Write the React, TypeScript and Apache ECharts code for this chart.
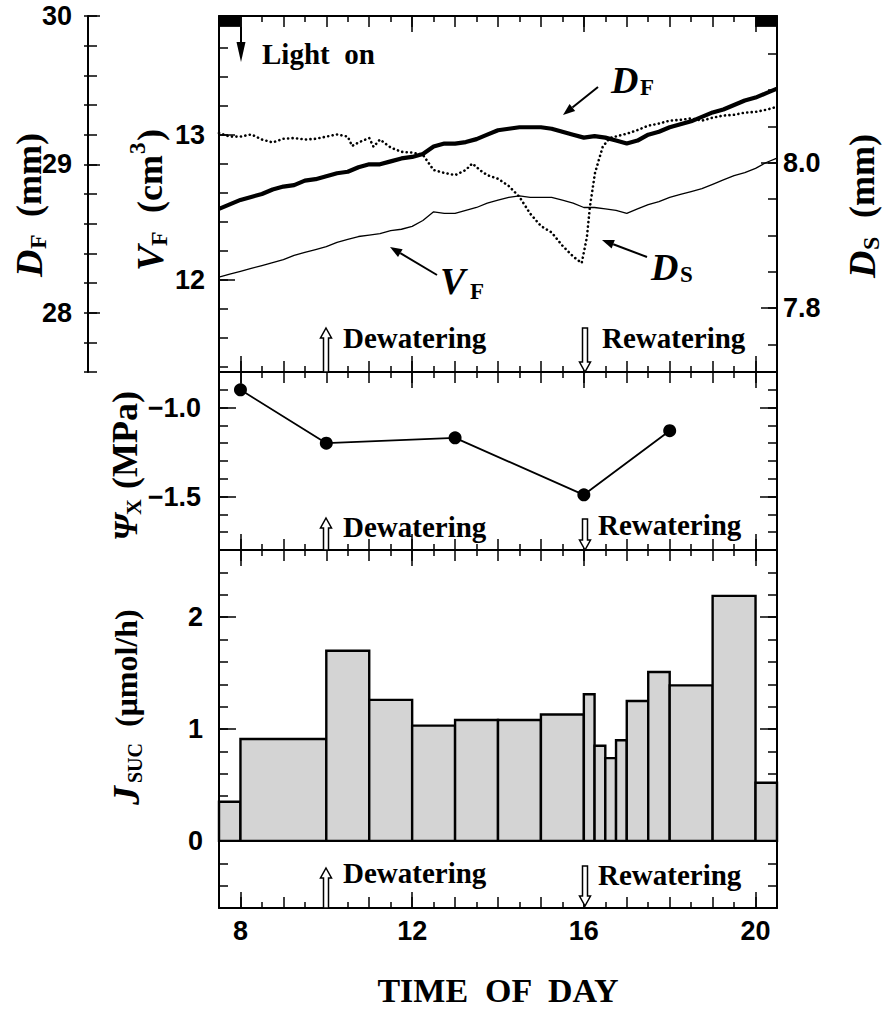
import React, { useEffect, useRef } from "react";
import * as echarts from "echarts";

// ---------- data ----------
const X_MIN = 7.5;
const X_MAX = 20.5;
const X_LABELS = [8, 12, 16, 20];
const X_HOUR_TICKS = [8, 9, 10, 11, 12, 13, 14, 15, 16, 17, 18, 19, 20];
const X_HALF_TICKS = [8.5, 9.5, 10.5, 11.5, 12.5, 13.5, 14.5, 15.5, 16.5, 17.5, 18.5, 19.5];

// top panel: time grid (h) for D_F and V_F
const HOURS = [
  7.5, 7.75, 8, 8.25, 8.5, 8.75, 9, 9.25, 9.5, 9.75, 10, 10.25, 10.5, 10.75, 11, 11.25, 11.5, 11.75,
  12, 12.25, 12.5, 12.75, 13, 13.25, 13.5, 13.75, 14, 14.25, 14.5, 14.75, 15, 15.25, 15.5, 15.75,
  16, 16.25, 16.5, 16.75, 17, 17.25, 17.5, 17.75, 18, 18.25, 18.5, 18.75, 19, 19.25, 19.5, 19.75,
  20, 20.25, 20.5,
];
// fruit diameter D_F (mm)
const DF = [
  28.70, 28.73, 28.76, 28.78, 28.80, 28.83, 28.85, 28.86, 28.89, 28.90, 28.92, 28.94, 28.95, 28.98,
  29.00, 29.00, 29.02, 29.04, 29.05, 29.07, 29.12, 29.14, 29.14, 29.15, 29.17, 29.20, 29.23, 29.24,
  29.25, 29.25, 29.25, 29.24, 29.22, 29.20, 29.18, 29.19, 29.18, 29.16, 29.14, 29.16, 29.20, 29.22,
  29.25, 29.27, 29.29, 29.32, 29.35, 29.37, 29.40, 29.43, 29.45, 29.48, 29.51,
];
// fruit volume V_F (cm3)
const VF = [
  12.02, 12.04, 12.06, 12.08, 12.10, 12.12, 12.14, 12.17, 12.19, 12.21, 12.23, 12.26, 12.28, 12.30,
  12.31, 12.32, 12.34, 12.35, 12.37, 12.41, 12.47, 12.46, 12.46, 12.48, 12.50, 12.53, 12.55, 12.57,
  12.58, 12.57, 12.57, 12.57, 12.55, 12.53, 12.50, 12.50, 12.49, 12.48, 12.46, 12.49, 12.52, 12.54,
  12.57, 12.59, 12.61, 12.63, 12.66, 12.69, 12.72, 12.74, 12.77, 12.81, 12.84,
];
// stem diameter D_S (mm)
const DS_HOURS = [
  7.5, 7.75, 8, 8.25, 8.5, 8.75, 9, 9.25, 9.5, 9.75, 10, 10.25, 10.5, 10.6, 10.75, 11, 11.1, 11.25,
  11.5, 11.75, 12, 12.25, 12.5, 12.75, 13, 13.25, 13.4, 13.6, 13.75, 14, 14.25, 14.5, 14.75, 15,
  15.25, 15.5, 15.75, 15.95, 16.07, 16.14, 16.26, 16.44, 16.6, 17, 17.25, 17.5, 17.75, 18, 18.25,
  18.5, 18.75, 19, 19.25, 19.5, 19.75, 20, 20.25, 20.5,
];
const DS = [
  8.041, 8.036, 8.036, 8.039, 8.032, 8.028, 8.033, 8.034, 8.032, 8.033, 8.036, 8.039, 8.036, 8.023,
  8.028, 8.034, 8.022, 8.032, 8.021, 8.015, 8.014, 8.011, 7.990, 7.986, 7.983, 7.990, 7.999, 7.989,
  7.983, 7.978, 7.968, 7.953, 7.930, 7.913, 7.904, 7.886, 7.871, 7.862, 7.897, 7.939, 7.986, 8.022,
  8.034, 8.040, 8.045, 8.051, 8.054, 8.058, 8.059, 8.061, 8.058, 8.062, 8.065, 8.066, 8.069, 8.070,
  8.073, 8.077,
];
const DARK_PERIODS = [
  [7.5, 8.0],
  [20.0, 20.5],
];

// middle panel: xylem water potential
const PSI_HOURS = [8, 10, 13, 16, 18];
const PSI = [-0.9, -1.2, -1.17, -1.49, -1.13];

// bottom panel: sucrose flux (histogram)
const J_START = [7.5, 8, 10, 11, 12, 13, 14, 15, 16, 16.25, 16.5, 16.75, 17, 17.5, 18, 19, 20];
const J_END = [8, 10, 11, 12, 13, 14, 15, 16, 16.25, 16.5, 16.75, 17, 17.5, 18, 19, 20, 20.5];
const J_SUC = [0.35, 0.91, 1.7, 1.26, 1.03, 1.08, 1.08, 1.13, 1.31, 0.85, 0.74, 0.9, 1.25, 1.51, 1.39, 2.19, 0.52];

// axis ticks / labels
const VF_TICKS = [11.4, 11.6, 11.8, 12, 12.2, 12.4, 12.6, 12.8, 13, 13.2, 13.4, 13.6, 13.8];
const VF_LABELS = [12, 13];
const DF_TICKS = [27.6, 27.8, 28, 28.2, 28.4, 28.6, 28.8, 29, 29.2, 29.4, 29.6, 29.8, 30];
const DF_LABELS = [28, 29, 30];
const DS_TICKS = [7.75, 7.8, 7.85, 7.9, 7.95, 8.0, 8.05, 8.1, 8.15, 8.2];
const DS_LABELS = [7.8, 8.0];
const PSI_TICKS = [-1.7, -1.6, -1.5, -1.4, -1.3, -1.2, -1.1, -1.0, -0.9];
const PSI_LABELS = [-1.5, -1.0];
const J_TICKS = [-0.4, -0.2, 0, 0.2, 0.4, 0.6, 0.8, 1, 1.2, 1.4, 1.6, 1.8, 2, 2.2, 2.4];
const J_LABELS = [0, 1, 2];

// ---------- styling helpers ----------
const SANS = "'Liberation Sans', Arial, Helvetica, sans-serif";
const SERIF = "'Liberation Serif', 'Times New Roman', Times, serif";
const BLACK = "#000";
const TICK_FONT = 27;

function xAxesFor(grid: number, withLabels: boolean) {
  const mk = (position: string, values: number[], len: number, line: boolean, labels: boolean) => ({
    type: "value",
    gridIndex: grid,
    position,
    min: X_MIN,
    max: X_MAX,
    axisLine: { show: line, onZero: false, lineStyle: { color: BLACK, width: 2 } },
    axisTick: { show: true, inside: true, length: len, customValues: values, lineStyle: { color: BLACK, width: 1.5 } },
    axisLabel: labels
      ? {
          show: true,
          customValues: X_LABELS,
          margin: 9,
          color: BLACK,
          fontFamily: SANS,
          fontWeight: "bold",
          fontSize: TICK_FONT,
          formatter: (v: number) => String(v),
        }
      : { show: false, customValues: X_LABELS },
    splitLine: { show: false },
  });
  return [
    mk("bottom", X_HALF_TICKS, 6, true, false),
    mk("bottom", X_HOUR_TICKS, 11, false, false),
    mk("bottom", X_LABELS, 16, false, withLabels),
    mk("top", X_HALF_TICKS, 6, true, false),
    mk("top", X_HOUR_TICKS, 11, false, false),
    mk("top", X_LABELS, 16, false, false),
  ];
}

function yAx(
  grid: number,
  position: string,
  min: number,
  max: number,
  ticks: number[],
  len: number,
  o: { line?: boolean; labels?: number[]; fmt?: (v: number) => string; offset?: number; outside?: boolean; margin?: number } = {}
) {
  return {
    type: "value",
    gridIndex: grid,
    position,
    offset: o.offset || 0,
    min,
    max,
    axisLine: { show: !!o.line, onZero: false, lineStyle: { color: BLACK, width: 2 } },
    axisTick: { show: true, inside: !o.outside, length: len, customValues: ticks, lineStyle: { color: BLACK, width: 1.5 } },
    axisLabel: o.labels
      ? {
          show: true,
          customValues: o.labels,
          margin: o.margin ?? 14,
          color: BLACK,
          fontFamily: SANS,
          fontWeight: "bold",
          fontSize: TICK_FONT,
          formatter: o.fmt || ((v: number) => String(v)),
        }
      : { show: false, customValues: ticks },
    splitLine: { show: false },
  };
}

function txt(x: number, y: number, text: string, size: number, italic = false, align = "left", family = SERIF) {
  return {
    type: "text",
    x,
    y,
    z: 100,
    style: {
      text,
      fill: BLACK,
      fontSize: size,
      fontFamily: family,
      fontWeight: "bold",
      fontStyle: italic ? "italic" : "normal",
      align,
      verticalAlign: "middle",
      textAlign: align,
      textVerticalAlign: "middle",
    },
  };
}

type Part = { t: string; dx: number; dy: number; s: number; i?: boolean };
function rotTitle(x: number, y: number, parts: Part[]) {
  return {
    type: "group",
    x,
    y,
    rotation: Math.PI / 2,
    z: 100,
    children: parts.map((p) => txt(p.dx, p.dy, p.t, p.s, !!p.i)),
  };
}

function arrow(x1: number, y1: number, x2: number, y2: number, head = 12, w = 4.5) {
  const dx = x2 - x1;
  const dy = y2 - y1;
  const L = Math.hypot(dx, dy);
  const ux = dx / L;
  const uy = dy / L;
  const bx = x2 - ux * head;
  const by = y2 - uy * head;
  return [
    { type: "line", z: 100, shape: { x1, y1, x2: bx, y2: by }, style: { stroke: BLACK, lineWidth: 2 } },
    {
      type: "polygon",
      z: 100,
      shape: { points: [[x2, y2], [bx - uy * w, by + ux * w], [bx + uy * w, by - ux * w]] },
      style: { fill: BLACK },
    },
  ];
}

function upHollow(x: number, tip: number, base: number) {
  return {
    type: "polygon",
    z: 100,
    shape: {
      points: [
        [x, tip], [x + 5.5, tip + 10], [x + 2.5, tip + 10], [x + 2.5, base],
        [x - 2.5, base], [x - 2.5, tip + 10], [x - 5.5, tip + 10],
      ],
    },
    style: { fill: "#fff", stroke: BLACK, lineWidth: 1.5 },
  };
}
function downHollow(x: number, top: number, tip: number) {
  return {
    type: "polygon",
    z: 100,
    shape: {
      points: [
        [x - 2.5, top], [x + 2.5, top], [x + 2.5, tip - 10], [x + 5.5, tip - 10],
        [x, tip], [x - 5.5, tip - 10], [x - 2.5, tip - 10],
      ],
    },
    style: { fill: "#fff", stroke: BLACK, lineWidth: 1.5 },
  };
}

export default function App() {
  const ref = useRef<HTMLDivElement>(null);

  useEffect(() => {
    if (!ref.current) return;
    const chart = echarts.init(ref.current, undefined, { renderer: "svg" });

    const dfPairs = HOURS.map((h, i) => [h, DF[i]]);
    const vfPairs = HOURS.map((h, i) => [h, VF[i]]);
    const dsPairs = DS_HOURS.map((h, i) => [h, DS[i]]);
    const psiPairs = PSI_HOURS.map((h, i) => [h, PSI[i]]);
    const jRows = J_START.map((s, i) => [s, J_END[i], J_SUC[i]]);

    const xAxis = [...xAxesFor(0, false), ...xAxesFor(1, false), ...xAxesFor(2, true)];

    const VF_MIN = 11.366, VF_MAX = 13.82;
    const DF_MIN = 27.6, DF_MAX = 30;
    const DS_MIN = 7.712, DS_MAX = 8.202;
    const PSI_MIN = -1.8, PSI_MAX = -0.8;
    const J_MIN = -0.6, J_MAX = 2.6;

    const yAxis = [
      // grid 0
      yAx(0, "left", VF_MIN, VF_MAX, VF_TICKS, 9, { line: true }), // 0
      yAx(0, "left", VF_MIN, VF_MAX, VF_LABELS, 16, { labels: VF_LABELS, margin: 14 }), // 1
      yAx(0, "left", DF_MIN, DF_MAX, DF_TICKS, 9, { line: true, offset: 131 }), // 2
      yAx(0, "left", DF_MIN, DF_MAX, DF_TICKS, 4, { offset: 131, outside: true }), // 3
      yAx(0, "left", DF_MIN, DF_MAX, DF_LABELS, 12, { offset: 131, labels: DF_LABELS, margin: 16 }), // 4
      yAx(0, "right", DS_MIN, DS_MAX, DS_TICKS, 9, { line: true }), // 5
      yAx(0, "right", DS_MIN, DS_MAX, DS_LABELS, 16, { labels: DS_LABELS, margin: 6, fmt: (v) => v.toFixed(1) }), // 6
      // grid 1
      yAx(1, "left", PSI_MIN, PSI_MAX, PSI_TICKS, 9, { line: true }), // 7
      yAx(1, "left", PSI_MIN, PSI_MAX, PSI_LABELS, 17, {
        labels: PSI_LABELS,
        margin: 18,
        fmt: (v) => "\u2212" + Math.abs(v).toFixed(1),
      }), // 8
      yAx(1, "right", PSI_MIN, PSI_MAX, PSI_TICKS, 9, { line: true }), // 9
      yAx(1, "right", PSI_MIN, PSI_MAX, PSI_LABELS, 17, {}), // 10
      // grid 2
      yAx(2, "left", J_MIN, J_MAX, J_TICKS, 9, { line: true }), // 11
      yAx(2, "left", J_MIN, J_MAX, J_LABELS, 17, { labels: J_LABELS, margin: 16 }), // 12
      yAx(2, "right", J_MIN, J_MAX, J_TICKS, 9, { line: true }), // 13
      yAx(2, "right", J_MIN, J_MAX, J_LABELS, 17, {}), // 14
    ];

    const graphic: any[] = [
      // Light on
      { type: "line", z: 100, shape: { x1: 241, y1: 27, x2: 241, y2: 46 }, style: { stroke: BLACK, lineWidth: 2 } },
      { type: "polygon", z: 100, shape: { points: [[236.5, 42], [245.5, 42], [241, 62]] }, style: { fill: BLACK } },
      txt(262, 54, "Light  on", 29),
      // curve labels
      txt(611, 80, "D", 38, true),
      txt(640, 87, "F", 23),
      ...arrow(598, 87, 563, 115),
      txt(440, 281, "V", 38, true),
      txt(470, 291, "F", 23),
      ...arrow(437, 275, 390, 247),
      txt(651, 267, "D", 38, true),
      txt(680, 274, "S", 23),
      ...arrow(647, 257, 602, 240),
      // dewatering / rewatering markers
      upHollow(326, 328, 372),
      txt(343, 338, "Dewatering", 29),
      downHollow(585, 328, 372),
      txt(602, 338, "Rewatering", 29),
      upHollow(326, 518, 550),
      txt(343, 527, "Dewatering", 29),
      downHollow(585, 519, 550),
      txt(598, 525, "Rewatering", 29),
      upHollow(326, 868, 908),
      txt(343, 873, "Dewatering", 29),
      downHollow(585, 866, 906),
      txt(598, 875, "Rewatering", 29),
      // axis titles
      rotTitle(29, 277, [
        { t: "D", dx: 0, dy: 0, s: 38, i: true },
        { t: "F", dx: 28, dy: 9, s: 24 },
        { t: "(mm)", dx: 60, dy: 0, s: 36 },
      ]),
      rotTitle(150, 271, [
        { t: "V", dx: 0, dy: 0, s: 38, i: true },
        { t: "F", dx: 25, dy: 9, s: 24 },
        { t: "(cm", dx: 58, dy: 0, s: 36 },
        { t: "3", dx: 117, dy: -13, s: 23 },
        { t: ")", dx: 130, dy: 0, s: 36 },
      ]),
      rotTitle(862, 278, [
        { t: "D", dx: 0, dy: 0, s: 38, i: true },
        { t: "S", dx: 28, dy: 9, s: 24 },
        { t: "(mm)", dx: 60, dy: 0, s: 36 },
      ]),
      rotTitle(125, 541, [
        { t: "\u03A8", dx: 0, dy: 0, s: 34, i: true },
        { t: "X", dx: 26, dy: 8, s: 22 },
        { t: "(MPa)", dx: 52, dy: 0, s: 36 },
      ]),
      rotTitle(126, 805, [
        { t: "J", dx: 0, dy: 0, s: 38, i: true },
        { t: "SUC", dx: 22, dy: 9, s: 20 },
        { t: "(\u03BCmol/h)", dx: 78, dy: 0, s: 32 },
      ]),
      txt(498, 990, "TIME  OF  DAY", 34, false, "center"),
    ];

    chart.setOption({
      animation: false,
      backgroundColor: "#fff",
      grid: [
        { left: 219, top: 16, width: 558, height: 356 },
        { left: 219, top: 372, width: 558, height: 178 },
        { left: 219, top: 550, width: 558, height: 358 },
      ],
      xAxis,
      yAxis,
      series: [
        {
          type: "line",
          xAxisIndex: 0,
          yAxisIndex: 2,
          data: dfPairs,
          symbol: "none",
          lineStyle: { color: BLACK, width: 4.2 },
          emphasis: { disabled: true },
          z: 4,
        },
        {
          type: "line",
          xAxisIndex: 0,
          yAxisIndex: 0,
          data: vfPairs,
          symbol: "none",
          lineStyle: { color: BLACK, width: 1.3 },
          emphasis: { disabled: true },
          markArea: {
            silent: true,
            label: { show: false },
            itemStyle: { color: BLACK, opacity: 1 },
            data: DARK_PERIODS.map(([a, b]) => [
              { xAxis: a, yAxis: 13.745 },
              { xAxis: b, yAxis: VF_MAX },
            ]),
          },
          z: 3,
        },
        {
          type: "line",
          xAxisIndex: 0,
          yAxisIndex: 5,
          data: dsPairs,
          symbol: "none",
          lineStyle: { color: BLACK, width: 2.6, type: [0.1, 4.4], cap: "round" },
          emphasis: { disabled: true },
          z: 3,
        },
        {
          type: "line",
          xAxisIndex: 6,
          yAxisIndex: 7,
          data: psiPairs,
          symbol: "circle",
          symbolSize: 13,
          itemStyle: { color: BLACK },
          lineStyle: { color: BLACK, width: 1.8 },
          emphasis: { disabled: true },
          z: 3,
        },
        {
          type: "custom",
          xAxisIndex: 12,
          yAxisIndex: 11,
          data: jRows,
          encode: { x: [0, 1], y: 2 },
          renderItem: (_p: any, api: any) => {
            const s = api.value(0);
            const e = api.value(1);
            const v = api.value(2);
            const p1 = api.coord([s, v]);
            const p2 = api.coord([e, 0]);
            return {
              type: "rect",
              shape: { x: p1[0], y: p1[1], width: p2[0] - p1[0], height: p2[1] - p1[1] },
              style: { fill: "#d4d4d4", stroke: BLACK, lineWidth: 2.4 },
            };
          },
          z: 2,
        },
      ],
      graphic,
    });

    return () => chart.dispose();
  }, []);

  return <div ref={ref} style={{ position: "absolute", left: 0, top: 0, width: 887, height: 1014 }} />;
}
